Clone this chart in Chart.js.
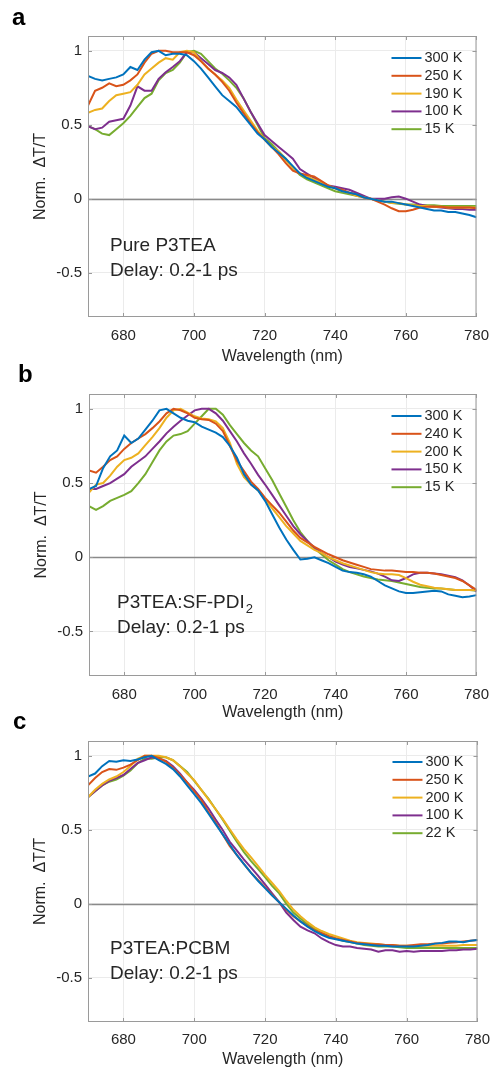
<!DOCTYPE html>
<html>
<head>
    <meta charset="UTF-8">
    <title>Norm. ΔT/T spectra</title>
    <script src="https://cdn.jsdelivr.net/npm/chart.js@4.4.0/dist/chart.umd.min.js"></script>
    <style>
        body { margin: 0; background: #fff; }
        canvas { position: absolute; left: 0; }
    </style>
</head>
<body>
    <canvas id="chartA" width="499" height="370" style="top:0px"></canvas>
    <canvas id="chartB" width="499" height="370" style="top:355px"></canvas>
    <canvas id="chartC" width="499" height="359" style="top:710px"></canvas>

    <script>
        // wavelength axis (nm)
        const wavelengths = [670,672,674,676,678,680,682,684,686,688,690,692,694,696,698,700,702,704,706,708,
                             710,712,714,716,718,720,722,724,726,728,730,732,734,736,738,740,742,744,746,748,
                             750,752,754,756,758,760,762,764,766,768,770,772,774,776,778,780];
        const xTicks = [680, 700, 720, 740, 760, 780];
        const yTicks = [-0.5, 0, 0.5, 1];

        // a: pure P3TEA
        const labelsA = ['300 K', '250 K', '190 K', '100 K', '15 K'];
        const a300 = [.83,.81,.80,.81,.82,.84,.89,.87,.94,.99, 1.0,.97,.98,.98,.97,.93,.88,.82,.76,.70,
                      .66,.62,.56,.50,.44,.40,.35,.31,.27,.22, .17,.14,.12,.10,.08,.07,.05,.04,.03,.01,
                      .00,-.01,-.02,-.02,-.03,-.04,-.05,-.06,-.07,-.08, -.08,-.09,-.09,-.10,-.11,-.125];
        const a250 = [.63,.73,.75,.78,.76,.77,.80,.84,.92,.98, 1.0,1.0,.99,.99,.99,.97,.93,.88,.84,.79,
                      .73,.65,.58,.51,.45,.40,.35,.30,.24,.19, .17,.16,.15,.12,.09,.07,.06,.04,.03,.01,
                      .00,-.02,-.04,-.065,-.085,-.085,-.075,-.06,-.055,-.055, -.055,-.06,-.06,-.06,-.06,-.065];
        const a190 = [.58,.60,.61,.66,.70,.71,.72,.77,.84,.88, .92,.95,.94,.99,1.0,.99,.93,.88,.84,.80,
                      .75,.67,.60,.53,.46,.40,.35,.32,.26,.21, .17,.15,.13,.11,.09,.07,.05,.04,.02,.01,
                      .00,-.01,-.02,-.03,-.03,-.04,-.045,-.05,-.05,-.055, -.055,-.06,-.06,-.06,-.06,-.06];
        const a100 = [.49,.47,.48,.52,.53,.54,.63,.76,.73,.73, .81,.855,.89,.93,.99,.99,.95,.91,.87,.85,
                      .82,.77,.68,.59,.51,.43,.39,.35,.31,.27, .20,.17,.14,.11,.09,.08,.07,.06,.04,.02,
                      .00,.00,.00,.01,.015,.00,-.02,-.04,-.05,-.055, -.06,-.065,-.07,-.07,-.075,-.075];
        const a15  = [.49,.47,.44,.43,.47,.51,.56,.62,.68,.71, .80,.85,.87,.92,.99,1.0,.98,.93,.88,.845,
                      .80,.75,.68,.59,.50,.41,.37,.32,.27,.21, .16,.13,.11,.09,.07,.05,.04,.03,.02,.01,
                      .00,-.01,-.02,-.03,-.035,-.04,-.04,-.045,-.045,-.045, -.05,-.05,-.05,-.05,-.05,-.05];

        // b: P3TEA:SF-PDI2
        const labelsB = ['300 K', '240 K', '200 K', '150 K', '15 K'];
        const b300 = [.46,.48,.60,.68,.72,.82,.77,.80,.86,.92, .99,1.0,.97,.94,.92,.91,.88,.86,.84,.81,
                      .75,.67,.56,.49,.45,.38,.29,.20,.12,.05, -.015,-.01,.00,-.02,-.04,-.065,-.09,-.10,-.105,-.115,
                      -.13,-.16,-.19,-.21,-.23,-.24,-.24,-.235,-.23,-.225, -.23,-.25,-.26,-.27,-.265,-.255];
        const b240 = [.585,.57,.61,.655,.68,.73,.77,.80,.83,.87, .915,.97,1.0,.99,.97,.94,.93,.925,.90,.85,
                      .75,.65,.58,.51,.46,.40,.35,.30,.24,.18, .13,.10,.07,.045,.02,.00,-.02,-.035,-.05,-.065,
                      -.08,-.085,-.09,-.09,-.095,-.10,-.10,-.105,-.105,-.11, -.12,-.13,-.14,-.16,-.19,-.22];
        const b200 = [.435,.49,.50,.55,.61,.655,.67,.70,.755,.81, .87,.94,.99,1.0,.975,.95,.935,.93,.915,.87,
                      .77,.63,.54,.49,.45,.39,.33,.27,.21,.16, .11,.08,.05,.03,.00,-.02,-.04,-.055,-.07,-.085,
                      -.10,-.11,-.115,-.115,-.12,-.14,-.165,-.185,-.195,-.205, -.21,-.215,-.22,-.22,-.22,-.22];
        const b150 = [.46,.46,.48,.50,.53,.56,.61,.645,.68,.73, .78,.835,.88,.92,.955,.99,1.0,1.0,.97,.92,
                      .85,.78,.70,.63,.555,.49,.42,.35,.28,.21, .155,.11,.065,.03,.00,-.03,-.05,-.065,-.075,-.085,
                      -.095,-.11,-.13,-.155,-.16,-.14,-.115,-.105,-.105,-.11, -.115,-.125,-.135,-.155,-.19,-.23];
        const b15  = [.345,.32,.345,.38,.40,.42,.445,.50,.56,.64, .72,.78,.82,.83,.85,.90,.95,1.0,1.0,.96,
                      .89,.83,.77,.72,.68,.60,.52,.43,.34,.25, .17,.11,.06,.02,-.02,-.05,-.08,-.10,-.115,-.13,
                      -.14,-.15,-.155,-.16,-.17,-.18,-.19,-.20,-.205,-.21, -.21,-.215,-.22,-.22,-.22,-.225];

        // c: P3TEA:PCBM
        const labelsC = ['300 K', '250 K', '200 K', '100 K', '22 K'];
        const c300 = [.86,.88,.93,.965,.96,.97,.965,.975,.99,1.0, .97,.945,.91,.86,.80,.74,.68,.61,.54,.47,
                      .40,.33,.27,.21,.155,.105,.055,.01,-.035,-.08, -.12,-.155,-.185,-.21,-.23,-.24,-.25,-.26,-.27,-.275,
                      -.28,-.285,-.285,-.29,-.29,-.29,-.29,-.285,-.28,-.27, -.265,-.255,-.255,-.26,-.25,-.245];
        const c250 = [.80,.85,.89,.91,.905,.92,.94,.97,1.0,1.0, .985,.96,.92,.87,.82,.76,.70,.62,.55,.47,
                      .39,.33,.27,.21,.16,.11,.06,.01,-.04,-.085, -.12,-.15,-.18,-.20,-.22,-.235,-.245,-.255,-.265,-.27,
                      -.275,-.275,-.28,-.28,-.285,-.285,-.28,-.275,-.275,-.27, -.27,-.265,-.26,-.255,-.25,-.245];
        const c200 = [.72,.77,.81,.84,.86,.89,.93,.98,1.0,1.0, 1.0,.99,.97,.93,.88,.835,.77,.705,.64,.575,
                      .505,.435,.37,.315,.255,.195,.14,.085,.02,-.04, -.085,-.125,-.16,-.185,-.205,-.22,-.235,-.25,-.26,-.265,
                      -.27,-.275,-.28,-.28,-.285,-.285,-.285,-.285,-.285,-.285, -.285,-.285,-.285,-.28,-.28,-.28];
        const c100 = [.72,.76,.80,.83,.85,.87,.91,.95,.97,.99, .98,.965,.93,.88,.82,.77,.71,.645,.57,.50,
                      .42,.36,.30,.245,.19,.13,.07,.01,-.06,-.11, -.155,-.18,-.20,-.235,-.26,-.28,-.29,-.29,-.30,-.305,
                      -.31,-.325,-.315,-.315,-.325,-.32,-.325,-.32,-.32,-.32, -.32,-.315,-.315,-.31,-.31,-.305];
        const c22  = [.72,.76,.80,.825,.84,.865,.90,.95,.98,.98, .99,.99,.97,.93,.89,.83,.77,.71,.64,.57,
                      .495,.42,.35,.29,.235,.18,.12,.07,.00,-.06, -.10,-.14,-.17,-.20,-.22,-.235,-.25,-.26,-.27,-.28,
                      -.285,-.29,-.29,-.29,-.295,-.30,-.30,-.30,-.30,-.30, -.30,-.30,-.30,-.30,-.30,-.30];

        const colors = ['#0072BD', '#D95319', '#EDB120', '#7E2F8E', '#77AC30'];
        const FONT = "'Liberation Sans', Arial, Helvetica, sans-serif";
        const TXT = '#262626';

        Chart.defaults.font.family = FONT;

        // frame, zero line, inward ticks, legend, notes and panel letter
        const decor = {
            id: 'decor',
            beforeDatasetsDraw(chart) {
                const { ctx, chartArea: a, scales: { y } } = chart;
                const y0 = Math.round(y.getPixelForValue(0)) + 0.5;
                ctx.save();
                ctx.strokeStyle = '#8a8a8a';
                ctx.lineWidth = 1.5;
                ctx.beginPath();
                ctx.moveTo(a.left, y0);
                ctx.lineTo(a.right, y0);
                ctx.stroke();
                ctx.restore();
            },
            afterDraw(chart, args, o) {
                const { ctx, chartArea: a, scales: { x, y } } = chart;
                ctx.save();
                ctx.strokeStyle = '#9a9a9a';
                ctx.lineWidth = 1;
                ctx.strokeRect(a.left + 0.5, a.top + 0.5, a.right - a.left - 1, a.bottom - a.top - 1);
                ctx.beginPath();
                xTicks.forEach(v => {
                    const px = Math.round(x.getPixelForValue(v)) + 0.5;
                    ctx.moveTo(px, a.bottom); ctx.lineTo(px, a.bottom - 4);
                    ctx.moveTo(px, a.top); ctx.lineTo(px, a.top + 4);
                });
                yTicks.forEach(v => {
                    const py = Math.round(y.getPixelForValue(v)) + 0.5;
                    ctx.moveTo(a.left, py); ctx.lineTo(a.left + 4, py);
                    ctx.moveTo(a.right, py); ctx.lineTo(a.right - 4, py);
                });
                ctx.stroke();

                // legend
                ctx.font = '14.5px ' + FONT;
                ctx.textBaseline = 'middle';
                ctx.textAlign = 'left';
                chart.data.datasets.forEach((ds, i) => {
                    const ly = a.top + o.legendTop + i * 17.8;
                    ctx.strokeStyle = ds.borderColor;
                    ctx.lineWidth = 2;
                    ctx.beginPath();
                    ctx.moveTo(a.right - 85, ly);
                    ctx.lineTo(a.right - 55, ly);
                    ctx.stroke();
                    ctx.fillStyle = TXT;
                    ctx.fillText(ds.label, a.right - 52, ly);
                });

                // sample notes
                ctx.font = '19px ' + FONT;
                ctx.fillStyle = TXT;
                const nx = a.left + o.noteDx;
                ctx.fillText(o.note1, nx, a.top + o.noteDy);
                if (o.note1Sub) {
                    const w = ctx.measureText(o.note1).width;
                    ctx.font = '13px ' + FONT;
                    ctx.fillText(o.note1Sub, nx + w + 1, a.top + o.noteDy + 6);
                    ctx.font = '19px ' + FONT;
                }
                ctx.fillText(o.note2, nx, a.top + o.noteDy + 24.5);

                // panel letter
                ctx.font = 'bold 24px ' + FONT;
                ctx.fillStyle = '#000';
                ctx.textBaseline = 'alphabetic';
                ctx.fillText(o.letter, o.letterX, o.letterY);
                ctx.restore();
            }
        };

        function makePanel(id, labels, series, pad, xHeight, tickPad, titlePad, deco) {
            const ctx = document.getElementById(id).getContext('2d');
            return new Chart(ctx, {
                type: 'line',
                data: {
                    datasets: series.map((vals, i) => ({
                        label: labels[i],
                        data: wavelengths.map((w, k) => ({ x: w, y: vals[k] })),
                        borderColor: colors[i],
                        backgroundColor: colors[i],
                        borderWidth: 2,
                        pointRadius: 0,
                        tension: 0
                    }))
                },
                options: {
                    responsive: false,
                    animation: false,
                    layout: { padding: pad },
                    plugins: {
                        legend: { display: false },
                        tooltip: { enabled: false },
                        decor: deco
                    },
                    scales: {
                        x: {
                            type: 'linear',
                            min: 670,
                            max: 780,
                            afterBuildTicks: s => { s.ticks = xTicks.map(v => ({ value: v })); },
                            afterFit: s => { s.height = xHeight; },
                            ticks: { color: TXT, font: { size: 15 }, padding: tickPad, maxRotation: 0, autoSkip: false,
                                     callback: v => String(v) },
                            grid: { color: '#ebebeb', drawTicks: false },
                            border: { display: false },
                            title: { display: true, text: 'Wavelength (nm)', color: TXT, font: { size: 16 },
                                     padding: { top: 0, bottom: titlePad } }
                        },
                        y: {
                            min: -0.8,
                            max: 1.1,
                            afterBuildTicks: s => { s.ticks = yTicks.map(v => ({ value: v })); },
                            afterFit: s => { s.width = 88; },
                            ticks: { color: TXT, font: { size: 15 }, padding: 6, autoSkip: false,
                                     callback: v => String(v) },
                            grid: { color: '#ebebeb', drawTicks: false },
                            border: { display: false },
                            title: { display: true, text: 'Norm.  ΔT/T', color: TXT, font: { size: 16 },
                                     padding: { top: 31, bottom: 0 } }
                        }
                    }
                },
                plugins: [decor]
            });
        }

        makePanel('chartA', labelsA, [a300, a250, a190, a100, a15],
            { top: 36, right: 15, bottom: 0, left: 0 }, 53, 10, 4,
            { legendTop: 22, note1: 'Pure P3TEA', note2: 'Delay: 0.2-1 ps', noteDx: 22, noteDy: 210,
              letter: 'a', letterX: 12, letterY: 25 });

        makePanel('chartB', labelsB, [b300, b240, b200, b150, b15],
            { top: 39, right: 13, bottom: 0, left: 1 }, 49, 10, 3,
            { legendTop: 22, note1: 'P3TEA:SF-PDI', note1Sub: '2', note2: 'Delay: 0.2-1 ps', noteDx: 28, noteDy: 209,
              letter: 'b', letterX: 18, letterY: 27 });

        makePanel('chartC', labelsC, [c300, c250, c200, c100, c22],
            { top: 31, right: 15, bottom: 0, left: 0 }, 47, 9, 0,
            { legendTop: 21, note1: 'P3TEA:PCBM', note2: 'Delay: 0.2-1 ps', noteDx: 22, noteDy: 208,
              letter: 'c', letterX: 13, letterY: 19 });
    </script>
</body>
</html>
